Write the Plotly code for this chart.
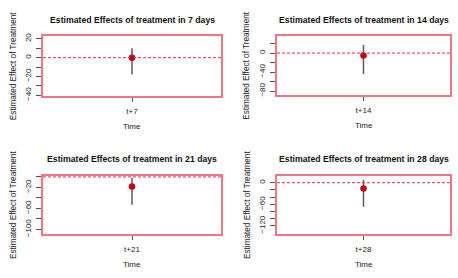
import plotly.graph_objects as go

W, H = 458, 278

titles = ["Estimated Effects of treatment in 7 days",
          "Estimated Effects of treatment in 14 days",
          "Estimated Effects of treatment in 21 days",
          "Estimated Effects of treatment in 28 days"]
xlabels = ["t+7", "t+14", "t+21", "t+28"]
estimates = [0, -5, -18, -16]
lower = [-18, -44, -53, -67]
upper = [10, 17, -2, 8]
yranges = [[-41, 23], [-89, 36], [-109, 2], [-143, 19]]
major_ticks = [[20, 0, -20, -40], [0, -40, -80], [-20, -60, -100], [0, -60, -120]]
minor_ticks = [[10, -10, -30], [20, -20, -60], [0, -40, -80], [-20, -40, -80, -100]]

# panel boxes in pixels: x0, x1, ytop, ybottom
boxes = [(43, 221, 34, 96), (277, 450, 34, 95), (43, 221, 178, 238), (277, 450, 178, 238)]

box_col = "#f27585"
fig = go.Figure()
font = "Liberation Sans, Arial, sans-serif"

for i in range(4):
    x0, x1, yt, yb = boxes[i]
    ax = "" if i == 0 else str(i + 1)
    xa, ya = "x" + ax, "y" + ax
    fig.add_trace(go.Scatter(x=[1, 1], y=[lower[i], upper[i]], mode="lines",
                             line=dict(color="#5a5a5a", width=1.5),
                             xaxis=xa, yaxis=ya, showlegend=False, hoverinfo="skip"))
    fig.add_trace(go.Scatter(x=[1], y=[estimates[i]], mode="markers",
                             marker=dict(color="#c80010", size=6.5),
                             xaxis=xa, yaxis=ya, showlegend=False))
    fig.add_shape(type="line", xref=xa + " domain", yref=ya, x0=0, x1=1, y0=0, y1=0,
                  line=dict(color="#e03040", width=1, dash="3px,2px"))
    fig.layout["xaxis" + ax] = dict(
        domain=[x0 / W, x1 / W], range=[0.5, 1.5], anchor=ya,
        tickvals=[1], ticktext=[xlabels[i]], ticks="outside", ticklen=4,
        tickcolor="#555555", showgrid=False, zeroline=False,
        showline=True, mirror=True, linecolor=box_col, linewidth=1.8,
        ticklabelstandoff=2,
        tickfont=dict(size=8, color="#222222", family=font))
    fig.layout["yaxis" + ax] = dict(
        domain=[1 - yb / H, 1 - yt / H], range=yranges[i], anchor=xa,
        tickvals=major_ticks[i], ticks="outside", ticklen=5, tickcolor="#555555",
        minor=dict(tickvals=minor_ticks[i], ticks="outside", ticklen=5, tickcolor="#555555"),
        tickangle=-90, showgrid=False, zeroline=False,
        showline=True, mirror=True, linecolor=box_col, linewidth=1.8,
        ticklabelstandoff=2,
        tickfont=dict(size=8, color="#222222", family=font))
    cx = (x0 + x1) / 2 / W
    fig.add_annotation(text="<b>" + titles[i] + "</b>", x=cx, y=1 - (yt - 17) / H,
                       xref="paper", yref="paper", showarrow=False,
                       xanchor="center", yanchor="middle",
                       font=dict(size=8.7, color="#111111", family=font))
    fig.add_annotation(text="Time", x=cx, y=1 - (yb + 31) / H,
                       xref="paper", yref="paper", showarrow=False,
                       xanchor="center", yanchor="middle",
                       font=dict(size=8, color="#222222", family=font))
    fig.add_annotation(text="Estimated Effect of Treatment", x=(x0 - 30) / W,
                       y=1 - (yt + yb) / 2 / H, textangle=-90,
                       xref="paper", yref="paper", showarrow=False,
                       xanchor="center", yanchor="middle",
                       font=dict(size=8.2, color="#222222", family=font))

fig.update_layout(width=W, height=H, margin=dict(l=0, r=0, t=0, b=0),
                  plot_bgcolor="white", paper_bgcolor="white")
fig.write_html("out.html", config={"displayModeBar": False},
               post_script="document.body.style.margin='0';")
